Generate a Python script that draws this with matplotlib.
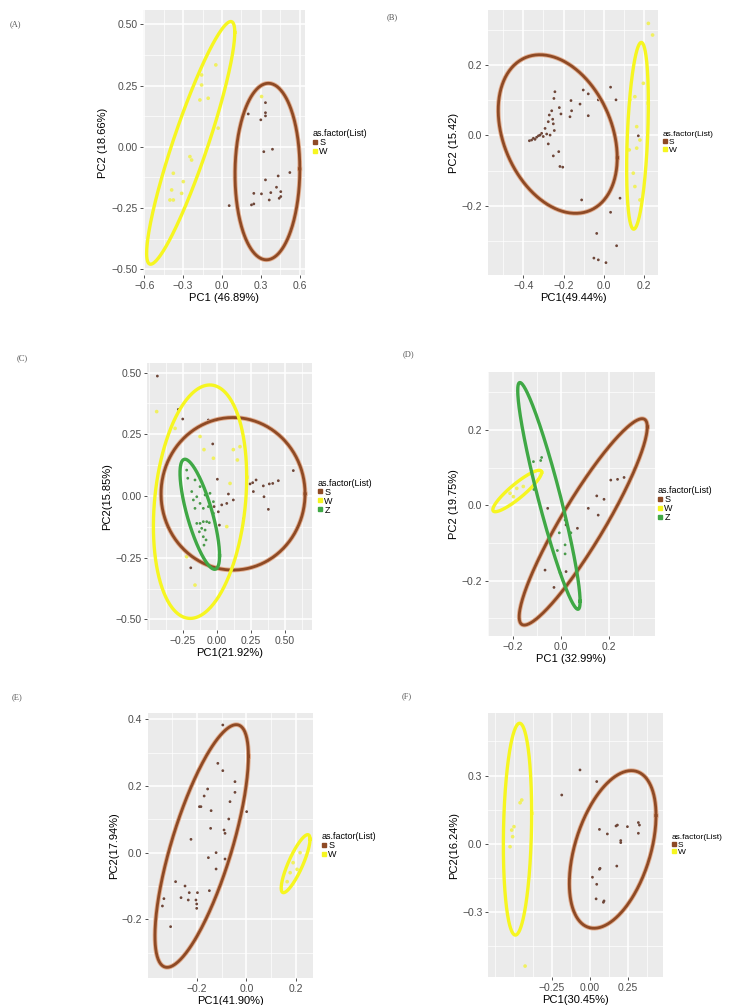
import numpy as np
import matplotlib.pyplot as plt
from matplotlib.lines import Line2D
from matplotlib.ticker import AutoMinorLocator

plt.rcParams['font.family'] = ['Liberation Sans', 'DejaVu Sans']

# ---- (A) ----
a_s_x = [0.335, 0.202, 0.335, 0.335, 0.299, 0.389, 0.322, 0.523, 0.433, 0.335, 0.420,
         0.304, 0.376, 0.453, 0.453, 0.441, 0.364, 0.245, 0.227, 0.055, 0.245]
a_s_y = [0.180, 0.134, 0.139, 0.126, 0.110, -0.010, -0.020, -0.105, -0.119, -0.135, -0.165,
         -0.192, -0.187, -0.183, -0.203, -0.210, -0.217, -0.190, -0.237, -0.240, -0.233]
a_w_x = [-0.158, -0.048, -0.158, -0.171, -0.107, -0.030, -0.248, -0.235, -0.376, -0.299,
         -0.389, -0.376, -0.312, -0.402, 0.305]
a_w_y = [0.293, 0.334, 0.252, 0.191, 0.198, 0.076, -0.040, -0.054, -0.108, -0.142,
         -0.176, -0.217, -0.190, -0.217, 0.205]
# ellipse: centre x, centre y, half width, half height, correlation
a_ell_s = [0.350, -0.101, 0.250, 0.360, 0.03]
a_ell_w = [-0.242, 0.016, 0.340, 0.495, 0.91]

# ---- (B) ----
b_s_x = [-0.243, -0.248, -0.102, -0.077, 0.034, -0.027, 0.061, -0.163, -0.118, -0.221,
         -0.160, -0.259, -0.271, -0.254, -0.213, -0.168, -0.077, -0.276, -0.251, -0.292,
         -0.246, -0.267, -0.276, -0.251, -0.224, -0.218, -0.204, -0.110, 0.034, 0.081,
         -0.035, 0.064, -0.049, -0.027, 0.011, 0.172, -0.359, -0.350, -0.334, -0.325,
         -0.309, -0.301, -0.370, -0.342, -0.317, -0.284]
b_s_y = [0.124, 0.105, 0.129, 0.118, 0.137, 0.101, 0.101, 0.099, 0.089, 0.079,
         0.070, 0.070, 0.058, 0.046, 0.061, 0.053, 0.056, 0.039, 0.033, 0.020,
         0.014, 0.001, -0.024, -0.058, -0.046, -0.088, -0.090, -0.183, -0.218, -0.178,
         -0.278, -0.313, -0.348, -0.353, -0.361, -0.001, -0.013, -0.008, -0.005, -0.001,
         0.006, -0.003, -0.015, -0.011, 0.001, 0.004]
b_w_x = [0.222, 0.243, 0.130, 0.155, 0.164, 0.180, 0.164, 0.147, 0.155, 0.180, 0.197, 0.127]
b_w_y = [0.318, 0.285, 0.101, 0.110, 0.025, -0.013, -0.036, -0.107, -0.145, -0.183, 0.148, -0.041]
b_ell_s = [-0.229, 0.004, 0.296, 0.225, -0.30]
b_ell_w = [0.168, -0.001, 0.054, 0.265, 0.35]

# ---- (C) ----
c_s_x = [-0.436, -0.282, -0.250, -0.062, -0.030, 0.004, 0.561, 0.244, 0.263, 0.288,
         0.341, 0.385, 0.410, 0.451, 0.268, 0.346, 0.378, 0.085, 0.121, 0.073,
         0.036, -0.020, 0.011, 0.019, -0.191, 0.195]
c_s_y = [0.486, 0.351, 0.312, 0.308, 0.211, 0.068, 0.103, 0.049, 0.054, 0.065,
         0.041, 0.049, 0.051, 0.062, 0.018, -0.003, -0.054, 0.008, -0.016, -0.030,
         -0.036, -0.043, -0.064, -0.118, -0.291, -0.093]
c_w_x = [-0.441, -0.306, -0.123, -0.094, -0.025, 0.121, 0.151, 0.073, -0.221, -0.160,
         0.097, 0.170, -0.392]
c_w_y = [0.342, 0.274, 0.241, 0.188, 0.153, 0.188, 0.146, -0.124, -0.246, -0.361,
         0.051, 0.200, 0.078]
c_z_x = [-0.221, -0.213, -0.160, -0.123, -0.184, -0.147, -0.086, -0.050, -0.123, -0.160,
         -0.099, -0.062, -0.025, -0.147, -0.123, -0.099, -0.074, -0.055, -0.111, -0.086,
         -0.128, -0.099, -0.079, -0.094, -0.025, -0.172]
c_z_y = [0.105, 0.072, 0.065, 0.038, 0.018, -0.003, 0.004, 0.011, -0.030, -0.050,
         -0.050, -0.043, -0.070, -0.111, -0.111, -0.104, -0.104, -0.108, -0.131, -0.138,
         -0.145, -0.165, -0.178, -0.199, -0.023, -0.016]
c_ell_s = [0.119, 0.009, 0.528, 0.309, 0.0]
c_ell_w = [-0.123, -0.023, 0.342, 0.473, 0.21]
c_ell_z = [-0.125, -0.074, 0.145, 0.223, -0.75]

# ---- (D) ----
d_s_x = [0.206, 0.234, 0.261, 0.148, 0.178, 0.113, 0.154, 0.068, 0.037, 0.021,
         -0.066, -0.001, 0.021, -0.029, 0.023, -0.055]
d_s_y = [0.067, 0.069, 0.074, 0.025, 0.016, -0.008, -0.026, -0.061, -0.073, -0.052,
         -0.172, -0.181, -0.176, -0.218, -0.214, -0.008]
d_w_x = [-0.211, -0.183, -0.156, -0.197]
d_w_y = [0.032, 0.045, 0.050, 0.023]
d_z_x = [-0.114, -0.080, -0.084, -0.112, 0.017, 0.023, -0.007, 0.041, 0.017, -0.015, 0.017, -0.004]
d_z_y = [0.116, 0.127, 0.119, 0.042, -0.039, -0.046, -0.073, -0.073, -0.105, -0.120, -0.129, -0.179]
d_ell_s = [0.092, -0.044, 0.265, 0.274, 0.92]
d_ell_w = [-0.181, 0.038, 0.101, 0.055, 0.90]
d_ell_z = [-0.050, 0.025, 0.129, 0.301, -0.93]

# ---- (E) ----
e_s_x = [-0.095, -0.115, -0.095, -0.046, -0.046, -0.156, -0.170, -0.189, -0.183, -0.066,
         -0.142, 0.001, -0.071, -0.144, -0.090, -0.032, -0.086, -0.223, -0.122, -0.153,
         -0.086, -0.122, -0.285, -0.247, -0.197, -0.230, -0.263, -0.234, -0.203, -0.200,
         -0.200, -0.332, -0.338, -0.305, -0.149]
e_s_y = [0.383, 0.268, 0.246, 0.213, 0.181, 0.191, 0.170, 0.138, 0.138, 0.153,
         0.126, 0.123, 0.101, 0.073, 0.068, 0.078, 0.058, 0.040, 0.000, -0.015,
         -0.019, -0.049, -0.087, -0.100, -0.120, -0.120, -0.135, -0.142, -0.142, -0.154,
         -0.167, -0.138, -0.160, -0.222, -0.114]
e_w_x = [0.216, 0.188, 0.176, 0.164, 0.204]
e_w_y = [0.000, -0.030, -0.060, -0.087, -0.050]
e_ell_s = [-0.180, 0.020, 0.188, 0.364, 0.74]
e_ell_w = [0.198, -0.033, 0.058, 0.087, 0.84]

# ---- (F) ----
f_s_x = [-0.064, 0.046, -0.184, 0.064, 0.173, 0.182, 0.248, 0.320, 0.327, 0.116,
         0.320, 0.204, 0.204, 0.178, 0.068, 0.064, 0.018, 0.046, 0.042, 0.094, 0.090]
f_s_y = [0.325, 0.274, 0.215, 0.064, 0.079, 0.083, 0.076, 0.094, 0.083, 0.044,
         0.047, 0.015, 0.006, -0.097, -0.107, -0.111, -0.146, -0.177, -0.241, -0.250, -0.256]
f_w_x = [-0.447, -0.458, -0.513, -0.507, -0.498, -0.425, -0.524]
f_w_y = [0.193, 0.181, 0.061, 0.032, 0.076, -0.536, -0.012]
f_ell_s = [0.151, -0.024, 0.285, 0.346, 0.43]
f_ell_w = [-0.475, 0.065, 0.093, 0.465, 0.15]

# axis ticks and titles
a_xticks, a_yticks = [-0.6, -0.3, 0.0, 0.3, 0.6], [-0.50, -0.25, 0.00, 0.25, 0.50]
b_xticks, b_yticks = [-0.4, -0.2, 0.0, 0.2], [-0.2, 0.0, 0.2]
c_xticks, c_yticks = [-0.25, 0.00, 0.25, 0.50], [-0.50, -0.25, 0.00, 0.25, 0.50]
d_xticks, d_yticks = [-0.2, 0.0, 0.2], [-0.2, 0.0, 0.2]
e_xticks, e_yticks = [-0.2, 0.0, 0.2], [-0.2, 0.0, 0.2, 0.4]
f_xticks, f_yticks = [-0.25, 0.00, 0.25], [-0.3, 0.0, 0.3]

titles = {
    'A': ('PC1 (46.89%)', 'PC2 (18.66%)'),
    'B': ('PC1(49.44%)', 'PC2 (15.42)'),
    'C': ('PC1(21.92%)', 'PC2(15.85%)'),
    'D': ('PC1 (32.99%)', 'PC2 (19.75%)'),
    'E': ('PC1(41.90%)', 'PC2(17.94%)'),
    'F': ('PC1(30.45%)', 'PC2(16.24%)'),
}

colors = {'S': '#8E4A25', 'W': '#F6F620', 'Z': '#3FA845'}
pt_colors = {'S': '#6E4638', 'W': '#F0F060', 'Z': '#4A9A4A'}

W_PX, H_PX = 734, 1005


def ellipse_xy(p, n=300):
    cx, cy, sx, sy, r = p
    t = np.linspace(0, 2 * np.pi, n)
    return cx + sx * np.cos(t), cy + sy * np.cos(t - np.arccos(r))


def fmt(v, dec):
    s = f'{v:.{dec}f}'
    return s.replace('-', '\u2212')


panels = [
    dict(key='A', tag_xy=(10, 24), box=(143, 10, 305, 275), xlim=(-0.61, 0.64), ylim=(-0.523, 0.558),
         xt=a_xticks, yt=a_yticks, xd=1, yd=2, gap=8, lfs=6.5,
         groups=[('S', a_s_x, a_s_y, a_ell_s), ('W', a_w_x, a_w_y, a_ell_w)]),
    dict(key='B', tag_xy=(387, 17), box=(488, 10, 658, 275), xlim=(-0.576, 0.27), ylim=(-0.396, 0.356),
         xt=b_xticks, yt=b_yticks, xd=1, yd=1, gap=5, lfs=6,
         groups=[('S', b_s_x, b_s_y, b_ell_s), ('W', b_w_x, b_w_y, b_ell_w)]),
    dict(key='C', tag_xy=(17, 358), box=(147, 363, 312, 630), xlim=(-0.512, 0.698), ylim=(-0.543, 0.539),
         xt=c_xticks, yt=c_yticks, xd=2, yd=2, gap=6, lfs=6.5,
         groups=[('S', c_s_x, c_s_y, c_ell_s), ('W', c_w_x, c_w_y, c_ell_w), ('Z', c_z_x, c_z_y, c_ell_z)]),
    dict(key='D', tag_xy=(403, 354), box=(488, 372, 655, 636), xlim=(-0.302, 0.389), ylim=(-0.347, 0.354),
         xt=d_xticks, yt=d_yticks, xd=1, yd=1, gap=3, lfs=6.5,
         groups=[('S', d_s_x, d_s_y, d_ell_s), ('W', d_w_x, d_w_y, d_ell_w), ('Z', d_z_x, d_z_y, d_ell_z)]),
    dict(key='E', tag_xy=(12, 697), box=(148, 713, 313, 978), xlim=(-0.396, 0.268), ylim=(-0.376, 0.419),
         xt=e_xticks, yt=e_yticks, xd=1, yd=1, gap=9, lfs=6.5,
         groups=[('S', e_s_x, e_s_y, e_ell_s), ('W', e_w_x, e_w_y, e_ell_w)]),
    dict(key='F', tag_xy=(402, 696), box=(488, 713, 663, 977), xlim=(-0.669, 0.482), ylim=(-0.584, 0.575),
         xt=f_xticks, yt=f_yticks, xd=2, yd=1, gap=9, lfs=6,
         groups=[('S', f_s_x, f_s_y, f_ell_s), ('W', f_w_x, f_w_y, f_ell_w)]),
]

fig = plt.figure(figsize=(W_PX / 100, H_PX / 100), dpi=100)

for p in panels:
    x0, y0, x1, y1 = p['box']
    ax = fig.add_axes([x0 / W_PX, 1 - y1 / H_PX, (x1 - x0) / W_PX, (y1 - y0) / H_PX])
    ax.set_facecolor('#EBEBEB')
    for sp in ax.spines.values():
        sp.set_visible(False)
    ax.set_axisbelow(True)

    for name, xs, ys, ell in p['groups']:
        size = 7 if name == 'W' else 4
        ax.scatter(xs, ys, s=size, color=pt_colors[name], edgecolors='none', zorder=3)
    for name, xs, ys, ell in p['groups']:
        ex, ey = ellipse_xy(ell)
        if name == 'S':
            ax.plot(ex, ey, color='#E2AE90', lw=3.3, zorder=4)
            ax.plot(ex, ey, color=colors[name], lw=2.0, zorder=5)
        else:
            ax.plot(ex, ey, color=colors[name], lw=2.4, zorder=5)

    ax.set_xlim(*p['xlim'])
    ax.set_ylim(*p['ylim'])
    ax.set_xticks(p['xt'])
    ax.set_xticklabels([fmt(v, p['xd']) for v in p['xt']])
    ax.set_yticks(p['yt'])
    ax.set_yticklabels([fmt(v, p['yd']) for v in p['yt']])
    ax.xaxis.set_minor_locator(AutoMinorLocator(2))
    ax.yaxis.set_minor_locator(AutoMinorLocator(2))
    ax.grid(which='major', color='white', lw=1.1)
    ax.grid(which='minor', color='white', lw=0.5)
    ax.tick_params(which='major', length=2.5, width=0.6, color='#333333',
                   labelsize=7.5, labelcolor='#4D4D4D', pad=1.5)
    ax.tick_params(which='minor', length=0)

    xl, yl = titles[p['key']]
    ax.set_xlabel(xl, fontsize=8, labelpad=1.5)
    ax.set_ylabel(yl, fontsize=8, labelpad=2)

    handles = [Line2D([], [], marker='s', ls='', color=colors[g[0]], markersize=2.2)
               for g in p['groups']]
    ax.legend(handles, [g[0] for g in p['groups']], title='as.factor(List)',
              loc='center left', bbox_to_anchor=(1 + p['gap'] / (x1 - x0), 0.5),
              frameon=False, fontsize=p['lfs'], title_fontsize=p['lfs'], labelspacing=0.0,
              handlelength=0.4, handletextpad=0.3, borderpad=0, borderaxespad=0,
              alignment='left')

    tx, ty = p['tag_xy']
    fig.text(tx / W_PX, 1 - ty / H_PX, '(' + p['key'] + ')', fontsize=6,
             family=['Liberation Serif', 'DejaVu Serif'], color='#555555', va='center')

fig.savefig('out.png', dpi=100)
